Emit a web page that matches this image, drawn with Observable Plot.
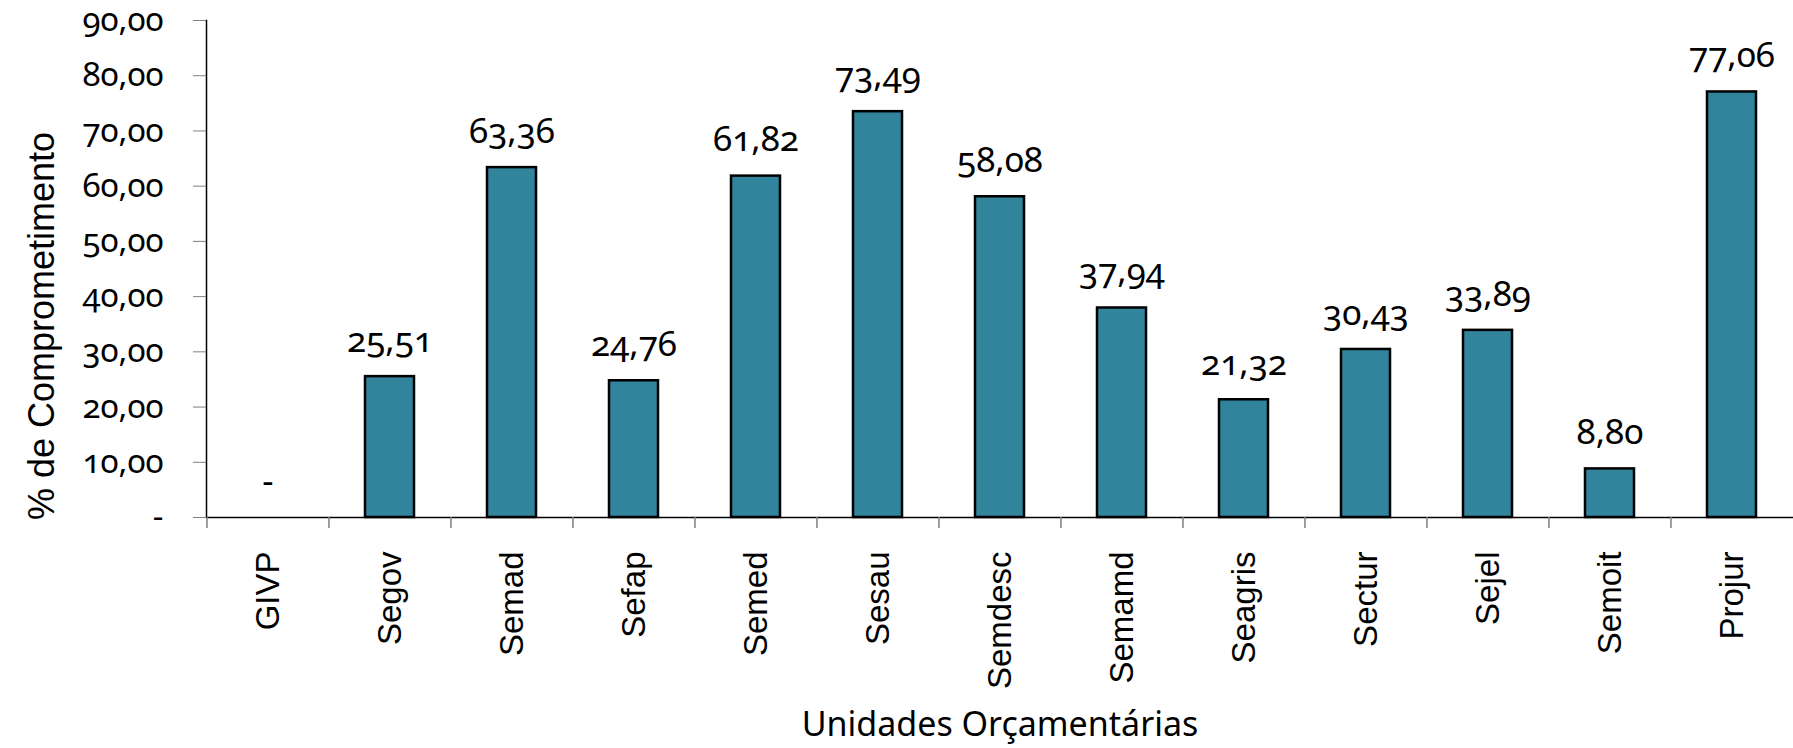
<!DOCTYPE html>
<html>
<head>
<meta charset="utf-8">
<script src="https://cdn.jsdelivr.net/npm/d3@7"></script>
<script src="https://cdn.jsdelivr.net/npm/@observablehq/plot@0.6"></script>
<style>
  html, body { margin: 0; padding: 0; background: #fff; }
  #chart svg { display: block; }
</style>
</head>
<body>
<div id="chart"></div>
<script>
const categories = ["GIVP","Segov","Semad","Sefap","Semed","Sesau","Semdesc","Semamd","Seagris","Sectur","Sejel","Semoit","Projur"];
const values = [0, 25.51, 63.36, 24.76, 61.82, 73.49, 58.08, 37.94, 21.32, 30.43, 33.89, 8.80, 77.06];
const yTicks = [0, 10, 20, 30, 40, 50, 60, 70, 80, 90];
const yTitle = "% de Comprometimento";
const xTitle = "Unidades Orçamentárias";

const data = categories.map((c, i) => ({cat: c, value: values[i]}));
const fmt = v => v === 0 ? "-" : v.toFixed(2).replace(".", ",");

const W = 1793, H = 748, mL = 206, mR = 0, mT = 20, mB = 231;
const step = (W - mL - mR) / categories.length;
const numFont = "Noto Sans";

const chart = Plot.plot({
  width: W,
  height: H,
  marginLeft: mL,
  marginRight: mR,
  marginTop: mT,
  marginBottom: mB,
  style: {fontFamily: numFont, background: "#fff", color: "#000"},
  x: {domain: categories, paddingInner: 0.6, paddingOuter: 0.3, axis: null},
  y: {domain: [0, 90], axis: null},
  marks: [
    Plot.barY(data, {x: "cat", y: "value", fill: "#31849B", stroke: "#000", strokeWidth: 2.5}),
    Plot.frame({anchor: "left", stroke: "#000", strokeWidth: 1.5}),
    Plot.ruleY([0], {stroke: "#000", strokeWidth: 1.5}),
    Plot.ruleX(categories, {x: d => d, dx: -step / 2, y1: 0, y2: -2, stroke: "#7f7f7f", strokeWidth: 1.5}),
    Plot.axisY({ticks: yTicks, tickFormat: fmt, tickSize: 13, tickPadding: 30, fontSize: 33,
      fontFamily: numFont, fontVariant: "oldstyle-nums", stroke: "#7f7f7f", fill: "#000", label: null}),
    Plot.axisX({tickSize: 0, tickRotate: -90, tickPadding: 34, fontSize: 33,
      fontFamily: "Liberation Sans", fill: "#000", label: null}),
    Plot.text(data, {x: "cat", y: "value", text: d => fmt(d.value), dy: -36, fontSize: 35,
      fontFamily: numFont, fontVariant: "oldstyle-nums", fill: "#000"}),
    Plot.text([yTitle], {frameAnchor: "left", dx: -164, dy: 57, rotate: -90, textAnchor: "middle",
      text: d => d, fontSize: 36, fontFamily: "Liberation Sans", fill: "#000"}),
    Plot.text([xTitle], {frameAnchor: "bottom", dy: 218, text: d => d, fontSize: 34,
      fontFamily: numFont, fill: "#000"})
  ]
});
document.getElementById("chart").appendChild(chart);
</script>
</body>
</html>
